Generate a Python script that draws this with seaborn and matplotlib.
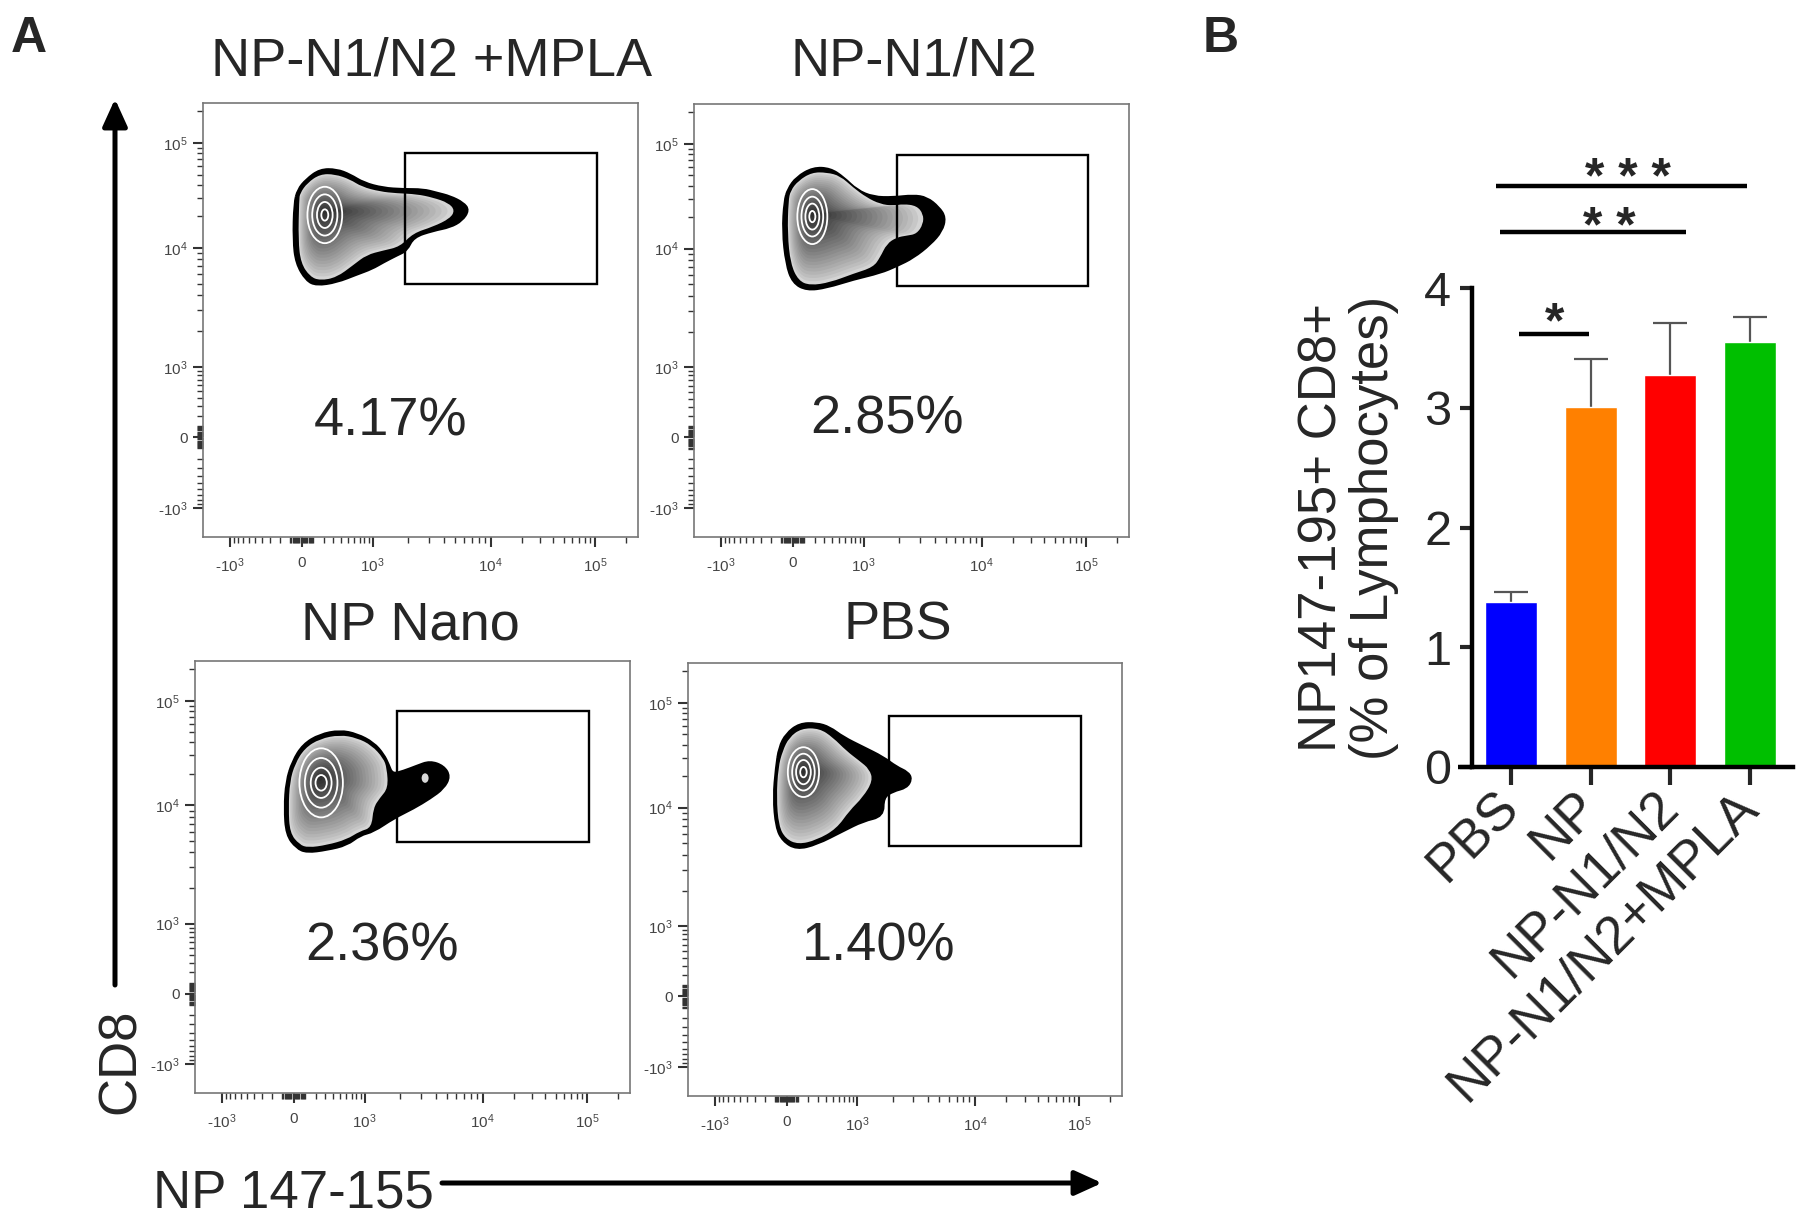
import numpy as np
import pandas as pd
import seaborn as sns
import matplotlib.pyplot as plt
from matplotlib.path import Path
from matplotlib.patches import PathPatch, Ellipse, Rectangle, FancyArrowPatch

# ---------------- panel A: flow plots (display channels, 0-1000 on both axes) ----------------
panel_titles = ["NP-N1/N2 +MPLA", "NP-N1/N2", "NP Nano", "PBS"]
gate_percents = ["4.17%", "2.85%", "2.36%", "1.40%"]

# outer contour of each population and the shaded (non-black) part inside it
mpla_outer = [(211, 769), (209, 684), (215, 631), (238, 592), (261, 581), (307, 588), (353, 606),
              (388, 619), (414, 634), (445, 650), (468, 661), (483, 692), (529, 707), (568, 715),
              (595, 730), (610, 753), (598, 769), (568, 784), (537, 792), (506, 800), (460, 800),
              (414, 803), (369, 815), (338, 834), (307, 846), (269, 846), (238, 823), (219, 800)]
mpla_core = [(221, 776), (219, 684), (225, 631), (246, 600), (269, 591), (307, 598), (346, 627),
             (376, 650), (414, 660), (453, 669), (483, 700), (529, 715), (568, 734), (579, 753),
             (564, 770), (529, 782), (491, 790), (445, 792), (407, 796), (365, 807), (338, 824),
             (303, 836), (269, 836), (240, 816), (223, 792)]

n1n2_outer = [(209, 776), (205, 707), (213, 631), (228, 588), (259, 571), (305, 577), (366, 596),
              (428, 611), (466, 627), (504, 646), (543, 677), (569, 707), (577, 738), (562, 761),
              (535, 783), (504, 788), (458, 783), (412, 784), (374, 800), (343, 830), (313, 850),
              (274, 852), (236, 830), (217, 803)]
n1n2_core = [(217, 776), (215, 700), (222, 631), (240, 592), (267, 581), (313, 588), (366, 608),
             (412, 623), (428, 646), (443, 677), (466, 692), (489, 696), (512, 700), (527, 723),
             (527, 746), (512, 765), (481, 769), (458, 765), (428, 769), (397, 784), (366, 807),
             (336, 834), (305, 842), (271, 842), (240, 823), (222, 800)]

nano_outer = [(211, 721), (207, 660), (211, 598), (234, 568), (257, 558), (303, 564), (349, 575),
              (379, 598), (410, 606), (456, 637), (502, 660), (540, 683), (571, 706), (585, 733),
              (571, 756), (540, 767), (510, 756), (479, 744), (453, 737), (444, 760), (433, 783),
              (410, 810), (372, 830), (333, 838), (287, 829), (249, 806), (225, 767)]
nano_core = [(218, 721), (215, 660), (218, 602), (240, 575), (260, 568), (303, 574), (349, 587),
             (379, 606), (406, 614), (410, 660), (425, 683), (444, 706), (441, 752), (433, 775),
             (406, 805), (372, 822), (333, 829), (287, 820), (252, 798), (230, 762)]

pbs_outer = [(204, 759), (198, 690), (204, 621), (219, 590), (250, 571), (296, 582), (357, 613),
             (403, 636), (449, 647), (449, 690), (472, 705), (503, 713), (514, 732), (506, 747),
             (480, 759), (449, 782), (403, 805), (357, 828), (326, 851), (296, 860), (257, 859),
             (227, 836), (211, 805)]
pbs_core = [(208, 759), (204, 690), (209, 624), (225, 594), (254, 581), (296, 591), (342, 617),
            (372, 659), (403, 690), (426, 728), (418, 755), (395, 774), (365, 797), (334, 828),
            (303, 849), (261, 849), (233, 828), (218, 797)]

outers = [mpla_outer, n1n2_outer, nano_outer, pbs_outer]
cores = [mpla_core, n1n2_core, nano_core, pbs_core]
peaks = [(277, 750), (271, 746), (287, 729), (264, 751)]
ring_centers = [(280, 742), (272, 740), (290, 718), (266, 748)]
ring_sizes = [
    [(80, 130), (58, 95), (36, 60), (16, 26)],
    [(69, 127), (50, 92), (32, 60), (14, 26)],
    [(100, 160), (75, 115), (48, 70), (26, 36)],
    [(72, 115), (52, 85), (34, 56), (15, 24)],
]
holes = [None, None, (529, 729, 16, 22), None]
gates = [(464, 583, 906, 885), (467, 580, 906, 882), (464, 581, 906, 884), (464, 578, 905, 878)]
pct_pos = [(432, 235), (443, 240), (431, 306), (439, 313)]

# channel positions of -10^3, 0, 10^3, 10^4, 10^5
x_anchors = (62, 227, 390, 661, 901)
y_anchors = (67, 230, 392, 666, 908)
major_vals = [-1e3, 0, 1e3, 1e4, 1e5]
major_labels = ["-$10^{3}$", "0", "$10^{3}$", "$10^{4}$", "$10^{5}$"]

# ---------------- panel B: bar chart ----------------
groups = ["PBS", "NP", "NP-N1/N2", "NP-N1/N2+MPLA"]
means = [1.38, 3.01, 3.27, 3.55]
sems = [0.08, 0.40, 0.44, 0.21]
bar_colors = ["#0000ff", "#ff8000", "#ff0000", "#00bf00"]
sig_labels = ["*", "* *", "* * *"]
sig_spans = [(0.10, 0.98), (-0.14, 2.20), (-0.19, 2.96)]
sig_heights = [3.62, 4.47, 4.85]
sig_text = [(0.55, 3.59), (1.24, 4.38), (1.47, 4.79)]

W, H = 1800, 1215


def fig_xy(x, y):
    return x / W, 1 - y / H


def smooth_path(pts):
    pts = np.asarray(pts, float)
    mids = (pts + np.roll(pts, -1, axis=0)) / 2
    verts = [mids[-1]]
    codes = [Path.MOVETO]
    for p, m in zip(pts, mids):
        verts += [p, m]
        codes += [Path.CURVE3, Path.CURVE3]
    return Path(verts, codes)


def to_channel(v, anchors):
    neg, zero, one, ten, hund = anchors
    if v == 0:
        return zero
    if abs(v) < 1000:
        span = (one - zero) if v > 0 else (zero - neg)
        return zero + np.sign(v) * span * np.arcsinh(abs(v) / 350) / np.arcsinh(1000 / 350)
    if v < 0:
        return neg
    if v >= 1e4:
        return ten + (hund - ten) * np.log10(v / 1e4)
    return one + (ten - one) * np.log10(v / 1e3)


def style_flow_axis(ax):
    minor_vals = [s * k * m for s in (-1, 1) for m in (10, 100) for k in range(1, 10)]
    minor_vals += [k * 1e3 for k in range(2, 10)] + [k * 1e4 for k in range(2, 10)] + [2e5]
    ax.set_xlim(0, 1000)
    ax.set_ylim(0, 1000)
    ax.set_xticks([to_channel(v, x_anchors) for v in major_vals], major_labels)
    ax.set_yticks([to_channel(v, y_anchors) for v in major_vals], major_labels)
    ax.set_xticks([to_channel(v, x_anchors) for v in minor_vals], minor=True)
    ax.set_yticks([to_channel(v, y_anchors) for v in minor_vals], minor=True)
    ax.tick_params(which="major", length=7, width=1.5, color="#333333", labelsize=11,
                   labelcolor="#444444", direction="out")
    ax.tick_params(axis="x", which="major", pad=7)
    ax.tick_params(axis="y", which="major", pad=4)
    ax.tick_params(which="minor", length=4, width=1.0, color="#333333", direction="out")
    for sp in ax.spines.values():
        sp.set_color("#777777")
        sp.set_linewidth(1.2)


def draw_flow(ax, i):
    ax.add_patch(PathPatch(smooth_path(outers[i]), fc="black", ec="black", lw=2.4))
    core = np.asarray(cores[i], float)
    peak = np.asarray(peaks[i], float)
    n = 22
    for k, s in enumerate(np.linspace(1.0, 0.04, n)):
        g = 0.83 - 0.65 * (k / (n - 1)) ** 0.85
        ax.add_patch(PathPatch(smooth_path(peak + s * (core - peak)), fc=(g, g, g), ec="none"))
    if holes[i] is not None:
        hx, hy, hw, hh = holes[i]
        ax.add_patch(Ellipse((hx, hy), hw, hh, fc="#d8d8d8", ec="none"))
    for w, h in ring_sizes[i]:
        ax.add_patch(Ellipse(ring_centers[i], w, h, fill=False, ec="white", lw=1.3))
    x0, y0, x1, y1 = gates[i]
    ax.add_patch(Rectangle((x0, y0), x1 - x0, y1 - y0, fill=False, ec="black", lw=1.7))
    ax.text(pct_pos[i][0], pct_pos[i][1], gate_percents[i], ha="center", va="baseline",
            fontsize=39)


sns.set_style("ticks")
plt.rcParams["font.family"] = ["Liberation Sans", "DejaVu Sans"]
plt.rcParams["mathtext.fontset"] = "custom"
plt.rcParams["mathtext.rm"] = "Liberation Sans"
plt.rcParams["mathtext.it"] = "Liberation Sans:italic"
plt.rcParams["mathtext.bf"] = "Liberation Sans:bold"

fig = plt.figure(figsize=(18, 12.15), dpi=100)

flow_boxes = [(203, 103, 638, 537), (694, 104, 1129, 537), (195, 661, 630, 1093), (688, 663, 1122, 1096)]
title_pos = [(432, 75), (914, 75), (410, 639), (898, 639)]
for i, (l, t, r, b) in enumerate(flow_boxes):
    ax = fig.add_axes([l / W, 1 - b / H, (r - l) / W, (b - t) / H])
    style_flow_axis(ax)
    draw_flow(ax, i)
    fig.text(*fig_xy(*title_pos[i]), panel_titles[i], ha="center", va="baseline", fontsize=39)

# axis arrows for panel A
fig.add_artist(FancyArrowPatch(fig_xy(115, 985), fig_xy(115, 99), transform=fig.transFigure,
                               arrowstyle="-|>,head_length=0.55,head_width=0.25", mutation_scale=30,
                               lw=3.6, color="black", shrinkA=0, shrinkB=0))
fig.add_artist(FancyArrowPatch(fig_xy(442, 1183), fig_xy(1102, 1183), transform=fig.transFigure,
                               arrowstyle="-|>,head_length=0.55,head_width=0.25", mutation_scale=30,
                               lw=3.6, color="black", shrinkA=0, shrinkB=0))
fig.text(*fig_xy(121, 1061), "CD8", rotation=90, ha="center", va="center", fontsize=38)
fig.text(*fig_xy(153, 1207), "NP 147-155", ha="left", va="baseline", fontsize=38)

fig.text(*fig_xy(11, 52), "A", ha="left", va="baseline", fontsize=36, fontweight="bold")
fig.text(*fig_xy(1203, 52), "B", ha="left", va="baseline", fontsize=36, fontweight="bold")

# ---------------- bar chart ----------------
axb = fig.add_axes([1472 / W, 1 - 767 / H, (1793 - 1472) / W, (767 - 288) / H])
df = pd.DataFrame({"group": groups, "value": means})
sns.barplot(data=df, x="group", y="value", hue="group", palette=bar_colors, legend=False,
            width=0.65, saturation=1, errorbar=None, ax=axb, zorder=2)
eb = axb.errorbar(range(len(groups)), means, yerr=[np.zeros(len(sems)), sems], fmt="none",
                  ecolor="#555555", elinewidth=1.6, capsize=12, capthick=1.6, zorder=1)
eb[1][0].set_visible(False)

axb.set_xlim(-0.49, 3.54)
axb.set_ylim(0, 4)
axb.set_yticks([0, 1, 2, 3, 4])
sns.despine(ax=axb)
for side in ("left", "bottom"):
    axb.spines[side].set_linewidth(3.2)
    axb.spines[side].set_color("black")
axb.plot([-0.67, -0.49], [0, 0], color="black", lw=3.2, clip_on=False, solid_capstyle="butt")
axb.tick_params(axis="y", length=9, width=3, labelsize=35, pad=6)
axb.tick_params(axis="x", length=13, width=3, pad=10)
axb.set_xticks(range(len(groups)))
axb.set_xticklabels(groups, rotation=45, ha="right", va="center", rotation_mode="anchor",
                    fontsize=38)
axb.set_xlabel("")
axb.set_ylabel("NP147-195+ CD8+\n(% of Lymphocytes)", fontsize=38, linespacing=1.05, labelpad=18)

for lab, (xa, xb), yl, (tx, ty) in zip(sig_labels, sig_spans, sig_heights, sig_text):
    axb.plot([xa, xb], [yl, yl], color="black", lw=3.2, clip_on=False, solid_capstyle="butt")
    axb.text(tx, ty, lab, ha="center", va="baseline", fontsize=36, fontweight="bold", clip_on=False)

fig.savefig("out.png", dpi=100)
